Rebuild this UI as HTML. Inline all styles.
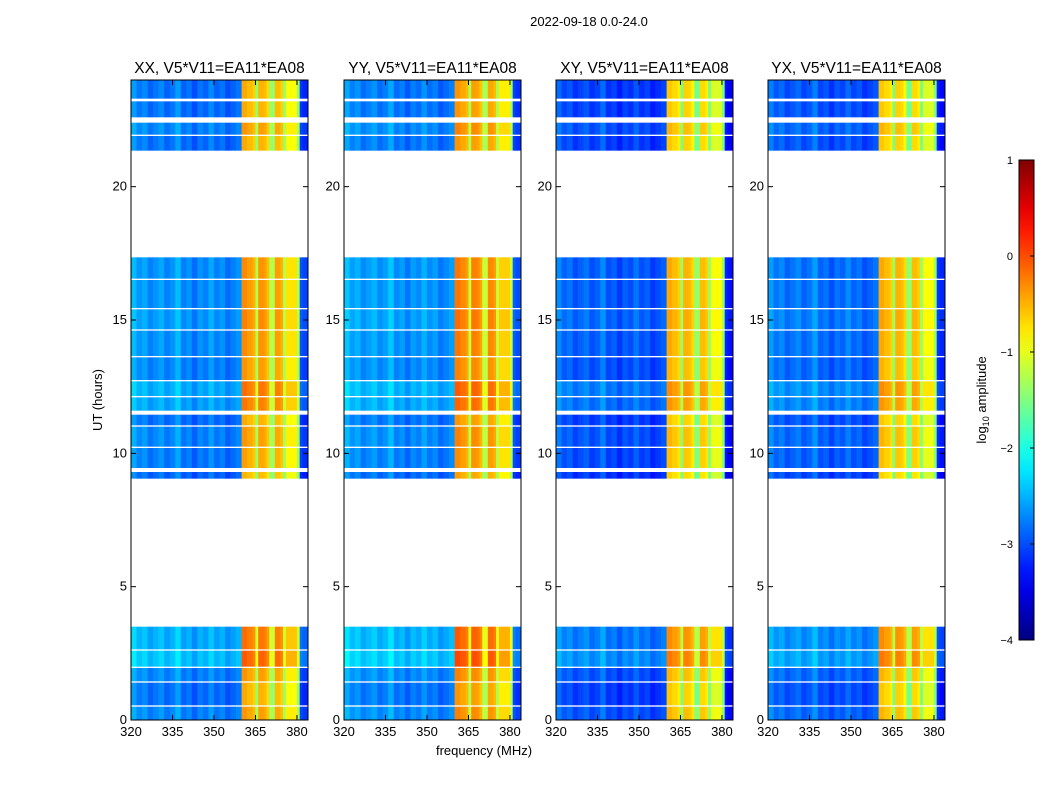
<!DOCTYPE html>
<html><head><meta charset="utf-8"><style>
body{margin:0;background:#fff;font-family:"Liberation Sans",sans-serif}
svg text{font-family:"Liberation Sans",sans-serif}
</style></head><body>
<svg id="fig" width="1050" height="800" xmlns="http://www.w3.org/2000/svg">
<text x="589" y="26" font-size="13" text-anchor="middle">2022-09-18 0.0-24.0</text>
<text x="484" y="755" font-size="13" text-anchor="middle">frequency (MHz)</text>
<text transform="translate(102,400) rotate(-90)" font-size="13" text-anchor="middle">UT (hours)</text>
<g id="panels"></g>
<g id="cbar"></g>
</svg>
<script>
const panelTitles=["XX, V5*V11=EA11*EA08","YY, V5*V11=EA11*EA08","XY, V5*V11=EA11*EA08","YX, V5*V11=EA11*EA08"];
const panelLeft=[131,344,556,768];
const panelOffset=[0,0.1,-0.15,-0.15];
const offbandOffset=[0,0.05,-0.25,-0.15];
// frequency channels (MHz, start), spectral level log10
const chanStart=[320,322,324,326,328,330,332,334,336,338,340,342,344,346,348,350,352,354,356,358,360,362,364,365,366,368,369,370,372,374,375,376,378,380,381,382];
const chanLevel=[-2.5,-2.7,-2.6,-2.8,-2.7,-2.6,-2.8,-2.7,-2.5,-2.8,-2.7,-2.9,-2.7,-2.8,-2.6,-2.8,-2.7,-2.9,-2.8,-2.7,-0.35,-0.45,-0.55,-1.3,-0.4,-0.45,-0.6,-1.3,-0.45,-0.55,-1.3,-0.8,-0.8,-1.3,-3.0,-3.1];
// time segments (hours) and level offsets
const segStart=[0,0.55,1.45,2.0,2.65,9.05,9.45,10.25,11.05,11.6,12.15,12.75,13.65,14.65,15.45,16.55,21.35,21.95,22.6,23.3];
const segEnd  =[0.5,1.4,1.95,2.6,3.5,9.3,10.2,11.0,11.45,12.1,12.7,13.6,14.6,15.4,16.5,17.35,21.9,22.4,23.2,24.0];
const segLevel=[0,-0.1,0,0.3,0.2,-0.15,-0.05,0,-0.1,0.15,0.2,0,0.05,0.1,0.05,0.05,-0.1,0,-0.1,-0.1];
const xTicks=[320,335,350,365,380];
const yTicks=[0,5,10,15,20];
const cbTicks=[1,0,-1,-2,-3,-4];
const PT=80,PB=720,PW=177,FMIN=320,FMAX=384,TMAX=24,VMIN=-4,VMAX=1;
function jet(v){let t=(v-VMIN)/(VMAX-VMIN);t=Math.max(0,Math.min(1,t));
 const c=x=>Math.round(255*Math.max(0,Math.min(1,x)));
 return `rgb(${c(1.5-Math.abs(4*t-3))},${c(1.5-Math.abs(4*t-2))},${c(1.5-Math.abs(4*t-1))})`;}
const NS="http://www.w3.org/2000/svg";
function mk(tag,attrs,parent){const e=document.createElementNS(NS,tag);for(const k in attrs)e.setAttribute(k,attrs[k]);parent.appendChild(e);return e;}
const Y=t=>PB-(t/TMAX)*(PB-PT);
const root=document.getElementById('panels');
panelTitles.forEach((title,p)=>{
 const L=panelLeft[p];const X=f=>L+(f-FMIN)/(FMAX-FMIN)*PW;
 const g=mk('g',{},root);
 
 
 const tt=mk('text',{x:L+PW/2,y:73,'font-size':15.5,'text-anchor':'middle'},g);tt.textContent=title;
 
 
 segStart.forEach((s,si)=>{
  chanStart.forEach((f,ci)=>{
   const fe=ci+1<chanStart.length?chanStart[ci+1]:FMAX;
   const band=chanLevel[ci]>-1.5;
   const v=chanLevel[ci]+segLevel[si]+(band?panelOffset[p]:offbandOffset[p]);
   const r=mk('rect',{x:X(f),y:Y(segEnd[si]),width:X(fe)-X(f)+0.3,height:Y(s)-Y(segEnd[si]),fill:jet(v)},g);
   
   
  });
 });
 const fr=mk('rect',{x:L,y:PT,width:PW,height:PB-PT,fill:'none',stroke:'#000','stroke-width':1},g);
 
 
 xTicks.forEach(v=>{const x=X(v);mk('line',{x1:x,x2:x,y1:PB,y2:PB-5,stroke:'#000'},g);mk('line',{x1:x,x2:x,y1:PT,y2:PT+5,stroke:'#000'},g);
  const t=mk('text',{x:x,y:PB+16,'font-size':13,'text-anchor':'middle'},g);t.textContent=v;
  
  });
 yTicks.forEach(v=>{const y=Y(v);mk('line',{x1:L,x2:L+5,y1:y,y2:y,stroke:'#000'},g);mk('line',{x1:L+PW,x2:L+PW-5,y1:y,y2:y,stroke:'#000'},g);
  const t=mk('text',{x:L-4,y:y+4,'font-size':13,'text-anchor':'end'},g);t.textContent=v;
  
  });
});
const cb=document.getElementById('cbar');
const CX=1019,CW=15,CT=160,CB=640;
const defs=mk('defs',{},cb);const lg=mk('linearGradient',{id:'jg',x1:0,y1:1,x2:0,y2:0},defs);
for(let i=0;i<=20;i++){mk('stop',{offset:i/20,'stop-color':jet(VMIN+(VMAX-VMIN)*i/20)},lg);}
mk('rect',{x:CX,y:CT,width:CW,height:CB-CT,fill:'url(#jg)',stroke:'#000'},cb);
cbTicks.forEach(v=>{const y=CB-(v-VMIN)/(VMAX-VMIN)*(CB-CT);
 mk('line',{x1:CX+CW-4,x2:CX+CW,y1:y,y2:y,stroke:'#000'},cb);
 const t=mk('text',{x:1013,y:y+4,'font-size':11,'text-anchor':'end'},cb);t.textContent=v<0?'\u2212'+(-v):v;
 
 });
const cl=mk('text',{transform:'translate(986,400) rotate(-90)','font-size':13,'text-anchor':'middle'},cb);
cl.innerHTML='log<tspan font-size="9" dy="3">10</tspan><tspan dy="-3"> amplitude</tspan>';


</script>
</body></html>
